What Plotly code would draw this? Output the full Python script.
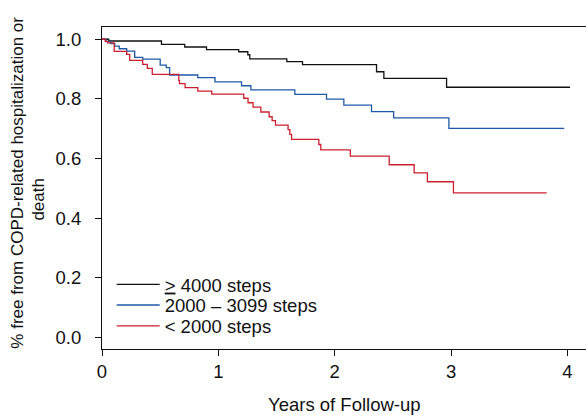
import plotly.graph_objects as go

# ---- data ----
years_ge4000 = [0, 0.058, 0.511, 0.711, 0.898, 1.175, 1.253, 1.270, 1.588, 1.723, 2.359, 2.422, 2.961, 4.022]
surv_ge4000 = [1.0, 0.994, 0.983, 0.974, 0.965, 0.958, 0.948, 0.934, 0.925, 0.915, 0.891, 0.869, 0.839, 0.839]

years_2000_3099 = [0, 0.036, 0.075, 0.109, 0.148, 0.212, 0.281, 0.350, 0.500, 0.552, 0.581, 0.823, 0.971,
                   1.199, 1.279, 1.657, 1.929, 2.078, 2.316, 2.506, 2.981, 3.972]
surv_2000_3099 = [1.0, 0.992, 0.985, 0.977, 0.968, 0.960, 0.939, 0.933, 0.913, 0.905, 0.880, 0.871, 0.857,
                  0.844, 0.830, 0.815, 0.799, 0.779, 0.757, 0.736, 0.701, 0.701]

years_lt2000 = [0, 0.028, 0.049, 0.105, 0.212, 0.238, 0.350, 0.389, 0.432, 0.660, 0.666, 0.714, 0.823, 0.943,
                1.218, 1.255, 1.298, 1.365, 1.436, 1.462, 1.491, 1.599, 1.614, 1.629, 1.863, 1.880, 2.134,
                2.468, 2.682, 2.796, 3.020, 3.821]
surv_lt2000 = [1.0, 0.993, 0.988, 0.959, 0.949, 0.929, 0.916, 0.902, 0.882, 0.861, 0.851, 0.838, 0.826, 0.816,
               0.802, 0.787, 0.772, 0.756, 0.740, 0.727, 0.712, 0.697, 0.681, 0.664, 0.647, 0.629, 0.608,
               0.579, 0.552, 0.522, 0.485, 0.485]

series_names = ["<u>&gt;</u> 4000 steps", "2000 \u2013 3099 steps", "&lt; 2000 steps"]
x_ticks = [0, 1, 2, 3, 4]
y_ticks = [0.0, 0.2, 0.4, 0.6, 0.8, 1.0]
y_ticklabels = ["0.0", "0.2", "0.4", "0.6", "0.8", "1.0"]

colors = ["#111111", "#1f5aa8", "#cc1f2f"]
FONT = "Liberation Sans, Arial, Helvetica, sans-serif"
FS = 18.5
FS_YT = 17

legend_ids = ["legend", "legend2", "legend3"]
legend_rows = [0.1993, 0.1352, 0.0701]

fig = go.Figure()
for xs, ys, name, c, lg in [
    (years_ge4000, surv_ge4000, series_names[0], colors[0], legend_ids[0]),
    (years_2000_3099, surv_2000_3099, series_names[1], colors[1], legend_ids[1]),
    (years_lt2000, surv_lt2000, series_names[2], colors[2], legend_ids[2]),
]:
    fig.add_trace(go.Scatter(x=xs, y=ys, mode="lines", line=dict(shape="hv", color=c, width=1.3),
                             name=name, hoverinfo="skip", legend=lg))

leg_common = dict(x=0.02, xanchor="left", yanchor="middle", bgcolor="rgba(0,0,0,0)",
                  borderwidth=0, font=dict(size=FS), itemwidth=43)

fig.update_layout(
    width=586, height=415,
    margin=dict(l=102.3, r=0, t=26.7, b=65.7, autoexpand=False),
    paper_bgcolor="white", plot_bgcolor="white",
    font=dict(family=FONT, size=FS, color="#111111"),
    showlegend=True,
    legend=dict(y=legend_rows[0], **leg_common),
    legend2=dict(y=legend_rows[1], **leg_common),
    legend3=dict(y=legend_rows[2], **leg_common),
    xaxis=dict(range=[0, 4.159], tickvals=x_ticks, ticks="outside", ticklen=6, tickwidth=1.2,
               tickcolor="#111111", showline=True, linecolor="#111111", linewidth=1.2, mirror=True,
               showgrid=False, zeroline=False, ticklabelstandoff=0, automargin=False),
    yaxis=dict(range=[-0.0388, 1.041], tickvals=y_ticks, ticktext=y_ticklabels, ticks="outside",
               ticklen=6, tickwidth=1.2, tickcolor="#111111", showline=True, linecolor="#111111",
               linewidth=1.2, showgrid=False, zeroline=False, ticklabelstandoff=10, automargin=False),
    annotations=[
        dict(text="Years of Follow-up", xref="paper", yref="paper", x=0.502, y=-0.1727,
             xanchor="center", yanchor="middle", showarrow=False, font=dict(size=FS)),
        dict(text="% free from COPD-related hospitalization or", xref="paper", yref="paper",
             x=-0.1753, y=0.517, xanchor="center", yanchor="middle", textangle=-90,
             showarrow=False, font=dict(size=FS_YT)),
        dict(text="death", xref="paper", yref="paper", x=-0.1309, y=0.466, xanchor="center",
             yanchor="middle", textangle=-90, showarrow=False, font=dict(size=FS_YT)),
    ],
)

fig.write_html("out.html")
